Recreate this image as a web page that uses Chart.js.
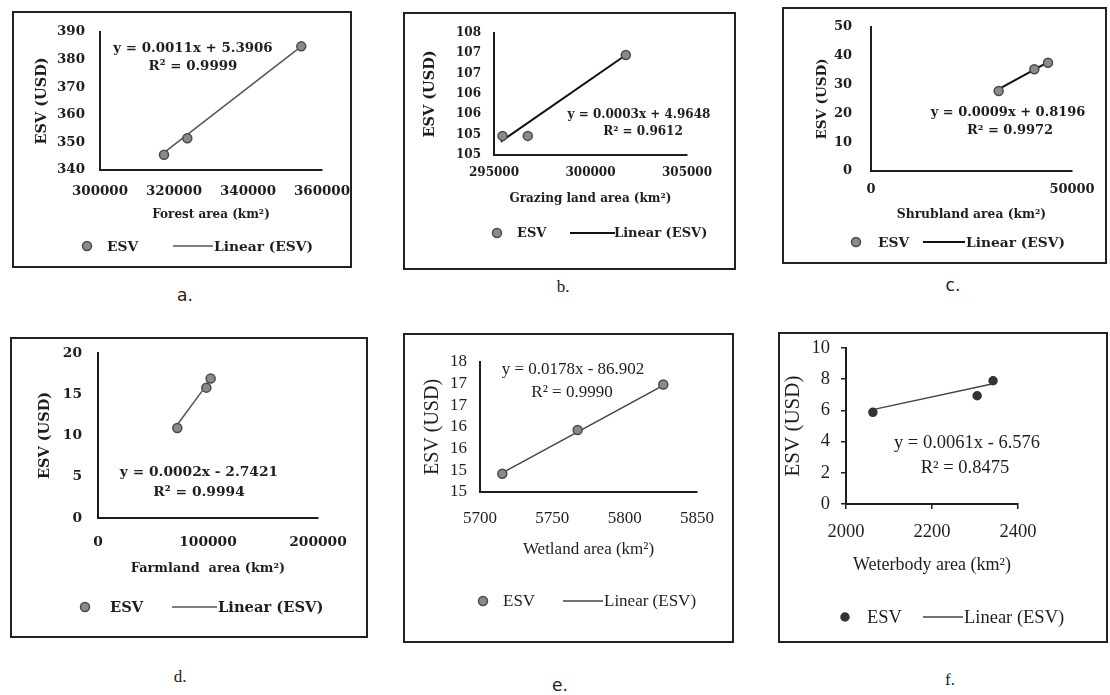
<!DOCTYPE html>
<html>
<head>
<meta charset="utf-8">
<title>ESV vs land cover area</title>
<script src="https://cdn.jsdelivr.net/npm/chart.js@4.4.0/dist/chart.umd.min.js"></script>
<style>
body { margin: 0; background: #fff; }
#page { position: relative; width: 1110px; height: 695px; overflow: hidden; }
.frame { position: absolute; border: 2px solid #222; box-sizing: border-box; background: #fff; }
.frame canvas { position: absolute; left: 0; top: 0; }
.tag { position: absolute; color: #222; transform: translate(-50%, -50%); font-size: 17px; }
</style>
</head>
<body>
<div id="page"></div>
<script>
// a. forest
var forestArea = [317300, 323600, 354400];
var forestEsv = [345.5, 351.5, 384.8];
var forestTrendX = [317300, 354400];
var forestTrendY = [346.3, 384.8];
var forestXTicks = [300000, 320000, 340000, 360000];
var forestYTicks = [340, 350, 360, 370, 380, 390];
var forestYLabels = ['340', '350', '360', '370', '380', '390'];

// b. grazing land
var grazingArea = [295440, 296750, 301830];
var grazingEsv = [105.47, 105.47, 107.46];
var grazingTrendX = [295350, 301830];
var grazingTrendY = [105.33, 107.46];
var grazingXTicks = [295000, 300000, 305000];
var grazingYTicks = [105, 105.5, 106, 106.5, 107, 107.5, 108];
var grazingYLabels = ['105', '105', '106', '106', '107', '107', '108'];

// c. shrubland
var shrubArea = [31760, 40630, 44030];
var shrubEsv = [27.8, 35.3, 37.6];
var shrubTrendX = [31760, 44030];
var shrubTrendY = [28.4, 37.8];
var shrubXTicks = [0, 50000];
var shrubYTicks = [0, 10, 20, 30, 40, 50];
var shrubYLabels = ['0', '10', '20', '30', '40', '50'];

// d. farmland
var farmArea = [72100, 98500, 102400];
var farmEsv = [10.9, 15.8, 16.9];
var farmTrendX = [72100, 102400];
var farmTrendY = [11.3, 16.8];
var farmXTicks = [0, 100000, 200000];
var farmYTicks = [0, 5, 10, 15, 20];
var farmYLabels = ['0', '5', '10', '15', '20'];

// e. wetland
var wetArea = [5715.4, 5767.5, 5826.7];
var wetEsv = [15.42, 16.43, 17.48];
var wetTrendX = [5715.4, 5826.7];
var wetTrendY = [15.44, 17.46];
var wetXTicks = [5700, 5750, 5800, 5850];
var wetYTicks = [15, 15.5, 16, 16.5, 17, 17.5, 18];
var wetYLabels = ['15', '15', '16', '16', '17', '17', '18'];

// f. waterbody
var waterArea = [2062.5, 2305, 2342];
var waterEsv = [5.88, 6.94, 7.9];
var waterTrendX = [2062.5, 2342];
var waterTrendY = [6.05, 7.71];
var waterXTicks = [2000, 2200, 2400];
var waterYTicks = [0, 2, 4, 6, 8, 10];
var waterYLabels = ['0', '2', '4', '6', '8', '10'];

var ink = '#1e1e1e';

var panels = [
  { tag: 'a.', tagPos: [185, 295], tagFont: 'DejaVu Sans',
    x: forestArea, y: forestEsv, tx: forestTrendX, ty: forestTrendY,
    xTicks: forestXTicks, yTicks: forestYTicks, yLabels: forestYLabels,
    xTitle: 'Forest area (km²)', eq: ['y = 0.0011x + 5.3906', 'R² = 0.9999'],
    frame: {x: 12, y: 11, w: 340, h: 257}, area: {l: 100, t: 32, r: 322, b: 170},
    family: 'DejaVu Serif', weight: 'bold', tick: 13.4, xt: 12, yt: 14.5, eqSize: 13.4, lg: 13.8,
    xLabelY: 192, xTitleY: 215, yTitleX: 42, yLabelRight: 85,
    eqPos: [[193, 49], [193, 67]],
    legend: {y: 246, dot: 87, t1: 107, l1: 173, l2: 213, t2: 214},
    trendColor: '#555', trendWidth: 1.5, marks: false },
  { tag: 'b.', tagPos: [563, 287], tagFont: 'Liberation Serif',
    x: grazingArea, y: grazingEsv, tx: grazingTrendX, ty: grazingTrendY,
    xTicks: grazingXTicks, yTicks: grazingYTicks, yLabels: grazingYLabels,
    xTitle: 'Grazing land area (km²)', eq: ['y = 0.0003x + 4.9648', 'R² = 0.9612'],
    frame: {x: 403, y: 12, w: 333, h: 258}, area: {l: 494, t: 33, r: 687, b: 155},
    family: 'DejaVu Serif', weight: 'bold', tick: 12, xt: 12, yt: 14.5, eqSize: 12, lg: 13,
    xLabelY: 173, xTitleY: 199, yTitleX: 430, yLabelRight: 481,
    eqPos: [[639, 115], [643, 132]],
    legend: {y: 233, dot: 497, t1: 517, l1: 570, l2: 615, t2: 614},
    trendColor: '#111', trendWidth: 2, marks: false },
  { tag: 'c.', tagPos: [953, 285], tagFont: 'DejaVu Sans',
    x: shrubArea, y: shrubEsv, tx: shrubTrendX, ty: shrubTrendY,
    xTicks: shrubXTicks, yTicks: shrubYTicks, yLabels: shrubYLabels,
    xTitle: 'Shrubland area (km²)', eq: ['y = 0.0009x + 0.8196', 'R² = 0.9972'],
    frame: {x: 782, y: 7, w: 325, h: 257}, area: {l: 871, t: 27, r: 1072, b: 171},
    family: 'DejaVu Serif', weight: 'bold', tick: 13, xt: 12.3, yt: 13.5, eqSize: 13, lg: 13.8,
    xLabelY: 190, xTitleY: 215, yTitleX: 822, yLabelRight: 852,
    eqPos: [[1008, 113], [1010, 131]],
    legend: {y: 242, dot: 856, t1: 878, l1: 923, l2: 965, t2: 966},
    trendColor: '#111', trendWidth: 2, marks: false },
  { tag: 'd.', tagPos: [180, 677], tagFont: 'Liberation Serif',
    x: farmArea, y: farmEsv, tx: farmTrendX, ty: farmTrendY,
    xTicks: farmXTicks, yTicks: farmYTicks, yLabels: farmYLabels,
    xTitle: 'Farmland  area (km²)', eq: ['y = 0.0002x - 2.7421', 'R² = 0.9994'],
    frame: {x: 10, y: 337, w: 358, h: 301}, area: {l: 98, t: 353, r: 318, b: 518},
    family: 'DejaVu Serif', weight: 'bold', tick: 13.8, xt: 12.9, yt: 14.5, eqSize: 13.8, lg: 14.7,
    xLabelY: 542, xTitleY: 569, yTitleX: 45, yLabelRight: 82,
    eqPos: [[199, 472], [199, 492]],
    legend: {y: 607, dot: 85, t1: 110, l1: 172, l2: 217, t2: 218},
    trendColor: '#555', trendWidth: 1.5, marks: false },
  { tag: 'e.', tagPos: [560, 685], tagFont: 'DejaVu Sans',
    x: wetArea, y: wetEsv, tx: wetTrendX, ty: wetTrendY,
    xTicks: wetXTicks, yTicks: wetYTicks, yLabels: wetYLabels,
    xTitle: 'Wetland area (km²)', eq: ['y = 0.0178x - 86.902', 'R² = 0.9990'],
    frame: {x: 403, y: 333, w: 331, h: 310}, area: {l: 480, t: 362, r: 697, b: 492},
    family: 'Liberation Serif', weight: 'normal', tick: 17, xt: 17, yt: 20, eqSize: 17, lg: 17,
    xLabelY: 519, xTitleY: 550, yTitleX: 433, yLabelRight: 467,
    eqPos: [[573, 370], [572, 393]],
    legend: {y: 601, dot: 483, t1: 503, l1: 563, l2: 603, t2: 604},
    trendColor: '#444', trendWidth: 1.5, marks: false },
  { tag: 'f.', tagPos: [950, 680], tagFont: 'Liberation Serif',
    x: waterArea, y: waterEsv, tx: waterTrendX, ty: waterTrendY,
    xTicks: waterXTicks, yTicks: waterYTicks, yLabels: waterYLabels,
    xTitle: 'Weterbody area (km²)', eq: ['y = 0.0061x - 6.576', 'R² = 0.8475'],
    frame: {x: 778, y: 332, w: 330, h: 311}, area: {l: 846, t: 348, r: 1018, b: 504},
    family: 'Liberation Serif', weight: 'normal', tick: 18.5, xt: 18, yt: 21, eqSize: 18.5, lg: 18.5,
    xLabelY: 532, xTitleY: 565, yTitleX: 793, yLabelRight: 830,
    eqPos: [[967, 443], [965, 468]],
    legend: {y: 617, dot: 845, t1: 867, l1: 923, l2: 963, t2: 964},
    trendColor: '#444', trendWidth: 1.5, marks: true }
];

// equation text and the hand-made legend, drawn on the canvas
var notesPlugin = {
  id: 'notes',
  afterDraw: function (chart, args, o) {
    var ctx = chart.ctx;
    var sets = chart.data.datasets;
    ctx.save();
    ctx.fillStyle = ink;
    ctx.textAlign = 'center';
    ctx.textBaseline = 'middle';
    ctx.font = o.weight + ' ' + o.eqSize + 'px "' + o.family + '"';
    o.eq.forEach(function (t, i) { ctx.fillText(t, o.eqPos[i][0], o.eqPos[i][1]); });

    var g = o.legend;
    ctx.beginPath();
    ctx.arc(g.dot, g.y, sets[0].pointRadius, 0, Math.PI * 2);
    ctx.fillStyle = sets[0].pointBackgroundColor;
    ctx.fill();
    ctx.lineWidth = sets[0].pointBorderWidth;
    ctx.strokeStyle = sets[0].pointBorderColor;
    ctx.stroke();

    ctx.beginPath();
    ctx.moveTo(g.l1, g.y);
    ctx.lineTo(g.l2, g.y);
    ctx.lineWidth = sets[1].borderWidth;
    ctx.strokeStyle = sets[1].borderColor;
    ctx.stroke();

    ctx.fillStyle = ink;
    ctx.textAlign = 'left';
    ctx.font = o.weight + ' ' + o.lg + 'px "' + o.family + '"';
    ctx.fillText(sets[0].label, g.t1, g.y + 1);
    ctx.fillText(sets[1].label, g.t2, g.y + 1);
    ctx.restore();
  }
};

// scales get a fixed size and no label overhang, so the plot area lands where we want it
function pinScale(s, size) {
  if (s.isHorizontal()) { s.height = size; } else { s.width = size; }
  s.paddingLeft = 0;
  s.paddingRight = 0;
  s.paddingTop = 0;
  s.paddingBottom = 0;
}

var page = document.getElementById('page');

panels.forEach(function (p) {
  var fr = p.frame;
  var W = fr.w - 4, H = fr.h - 4;
  var ox = fr.x + 2, oy = fr.y + 2;
  var ca = {l: p.area.l - ox, t: p.area.t - oy, r: p.area.r - ox, b: p.area.b - oy};
  var tickLen = p.marks ? 5 : 0;

  var box = document.createElement('div');
  box.className = 'frame';
  box.style.left = fr.x + 'px';
  box.style.top = fr.y + 'px';
  box.style.width = fr.w + 'px';
  box.style.height = fr.h + 'px';
  var cv = document.createElement('canvas');
  cv.width = W;
  cv.height = H;
  box.appendChild(cv);
  page.appendChild(box);

  var tag = document.createElement('div');
  tag.className = 'tag';
  tag.textContent = p.tag;
  tag.style.left = p.tagPos[0] + 'px';
  tag.style.top = p.tagPos[1] + 'px';
  tag.style.fontFamily = p.tagFont;
  page.appendChild(tag);

  var pts = p.x.map(function (v, i) { return {x: v, y: p.y[i]}; });
  var trend = p.tx.map(function (v, i) { return {x: v, y: p.ty[i]}; });
  var f = function (s) { return {family: p.family, size: s, weight: p.weight}; };
  var axisGrid = {display: p.marks, drawOnChartArea: false, drawTicks: p.marks,
                  tickLength: tickLen, color: ink, lineWidth: 1.5};

  new Chart(cv, {
    type: 'scatter',
    data: {
      datasets: [{
        label: 'ESV',
        data: pts,
        pointRadius: p.marks ? 4 : 4.5,
        pointBackgroundColor: p.marks ? '#333' : '#8a8a8a',
        pointBorderColor: p.marks ? '#333' : '#4a4a4a',
        pointBorderWidth: 1.5,
        showLine: false,
        clip: false
      }, {
        label: 'Linear (ESV)',
        data: trend,
        showLine: true,
        borderColor: p.trendColor,
        borderWidth: p.trendWidth,
        pointRadius: 0,
        fill: false,
        clip: false
      }]
    },
    options: {
      responsive: false,
      animation: false,
      events: [],
      layout: {padding: {left: 0, top: ca.t, right: W - ca.r, bottom: 0}},
      scales: {
        x: {
          type: 'linear',
          min: p.xTicks[0],
          max: p.xTicks[p.xTicks.length - 1],
          afterBuildTicks: function (s) { s.ticks = p.xTicks.map(function (v) { return {value: v}; }); },
          afterFit: function (s) { pinScale(s, H - ca.b); },
          grid: axisGrid,
          border: {display: true, color: ink, width: 2},
          ticks: {
            autoSkip: false, maxRotation: 0, color: ink, font: f(p.tick),
            padding: (p.xLabelY - p.area.b) - 0.6 * p.tick - tickLen,
            callback: function (v, i) { return String(p.xTicks[i]); }
          },
          title: {
            display: true, text: p.xTitle, color: ink, font: f(p.xt),
            padding: {top: 0, bottom: (fr.y + fr.h - 2) - p.xTitleY - 0.6 * p.xt}
          }
        },
        y: {
          type: 'linear',
          min: p.yTicks[0],
          max: p.yTicks[p.yTicks.length - 1],
          afterBuildTicks: function (s) { s.ticks = p.yTicks.map(function (v) { return {value: v}; }); },
          afterFit: function (s) { pinScale(s, ca.l); },
          grid: axisGrid,
          border: {display: true, color: ink, width: 2},
          ticks: {
            autoSkip: false, color: ink, font: f(p.tick),
            padding: (p.area.l - p.yLabelRight) - tickLen,
            callback: function (v, i) { return p.yLabels[i]; }
          },
          title: {
            display: true, text: 'ESV (USD)', color: ink, font: f(p.yt),
            padding: {top: (p.yTitleX - ox) - 0.6 * p.yt, bottom: 0}
          }
        }
      },
      plugins: {
        legend: {display: false},
        tooltip: {enabled: false},
        notes: {
          family: p.family, weight: p.weight, eqSize: p.eqSize, lg: p.lg, eq: p.eq,
          eqPos: p.eqPos.map(function (q) { return [q[0] - ox, q[1] - oy]; }),
          legend: {
            y: p.legend.y - oy, dot: p.legend.dot - ox, t1: p.legend.t1 - ox,
            l1: p.legend.l1 - ox, l2: p.legend.l2 - ox, t2: p.legend.t2 - ox
          }
        }
      }
    },
    plugins: [notesPlugin]
  });
});
</script>
</body>
</html>
